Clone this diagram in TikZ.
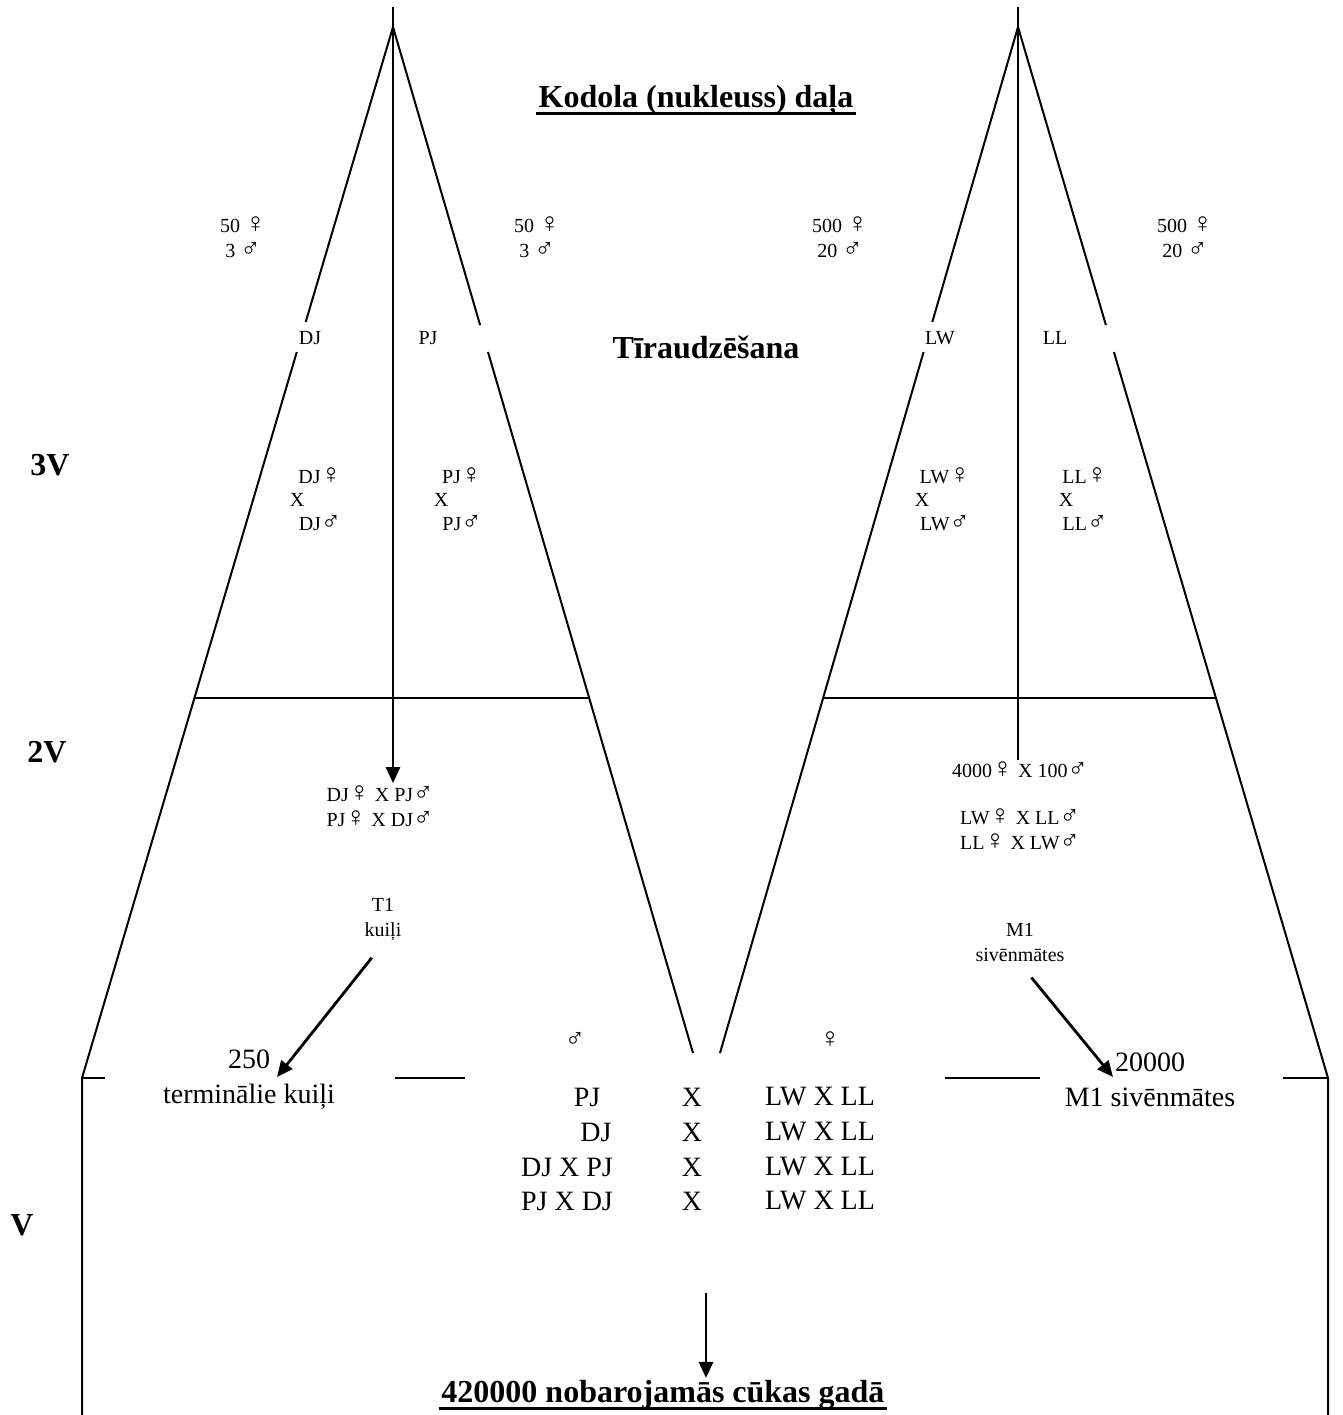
\documentclass[tikz,border=0pt]{standalone}
\usepackage{fontspec}
\setmainfont{Liberation Serif}
\usetikzlibrary{arrows.meta,positioning}

% sex signs, drawn at the height of the capitals
\newcommand{\fem}{\scalebox{1.4}{♀}}
\newcommand{\mal}{\scalebox{1.35}{♂}}

\begin{document}
\begin{tikzpicture}[x=0.5pt, y=-0.5pt,
    lbl/.style={font=\fontsize{10}{12.5}\selectfont, align=center, inner sep=1pt},
    big/.style={font=\fontsize{14}{17.5}\selectfont, align=center, inner sep=1pt},
    heading/.style={font=\fontsize{16}{19}\selectfont\bfseries, inner sep=1pt},
    side/.style={line width=1pt},
    stem/.style={line width=1.4pt},
    flow/.style={-{Triangle[length=8pt,width=7pt]}, line width=1.4pt}
]
\useasboundingbox (0,0) rectangle (1343,1415);

% --- Headings and generation marks ---
\node[heading] (core) at (696,100) {Kodola (nukleuss) daļa};
\draw[line width=1.5pt] ([yshift=-3pt]core.base west) -- ([yshift=-3pt]core.base east);
\node[heading] (pure) at (706,347) {Tīraudzēšana};

\node[heading] (g3) at (50,465) {3V};
\node[heading] (g2) at (47,752) {2V};
\node[heading] (g1) at (22,1225) {V};

% --- Left pyramid: DJ and PJ ---
\coordinate (apexL) at (393,27);
\coordinate (topL) at (393,7);
\draw[side] (apexL) -- (305.7,322) (296.8,352) -- (82,1078) -- (82,1415);
\draw[side] (apexL) -- (480.1,325) (488.0,352) -- (693,1053);
\draw[side] (194.4,698) -- (589.2,698);

% --- Right pyramid: LW and LL ---
\coordinate (apexR) at (1018,27);
\coordinate (topR) at (1018,7);
\draw[side] (apexR) -- (932.3,322) (923.6,352) -- (720,1053);
\draw[side] (apexR) -- (1105.9,325) (1113.9,352) -- (1328,1078) -- (1328,1415);
\draw[side] (823.1,698) -- (1215.9,698);

% Commercial level (broken by the labels)
\draw[side] (82,1078) -- (105,1078) (395,1078) -- (465,1078)
            (945,1078) -- (1040,1078) (1283,1078) -- (1328,1078);

% --- Nucleus herd sizes ---
\node[lbl] (djHerd) at (243,237) {50 \fem\\3 \mal};
\node[lbl] (pjHerd) at (537,237) {50 \fem\\3 \mal};
\node[lbl] (lwHerd) at (840,237) {500 \fem\\20 \mal};
\node[lbl] (llHerd) at (1185,237) {500 \fem\\20 \mal};

\node[lbl] (dj) at (310,338) {DJ};
\node[lbl] (pj) at (428,338) {PJ};
\node[lbl] (lw) at (940,338) {LW};
\node[lbl] (ll) at (1055,338) {LL};

% Pure-line matings
\foreach \bx/\xx/\br in {320/297/DJ, 462/441/PJ, 945/922/LW, 1085/1066/LL} {
    \node[lbl] (\br-f) at (\bx,476) {\br\fem};
    \node[lbl] (\br-x) at (\xx,500) {X};
    \node[lbl] (\br-m) at (\bx,523) {\br\mal};
}

% --- Multiplier level ---
\node[lbl] (crossL) at (380,806) {DJ\fem{} X PJ\mal\\PJ\fem{} X DJ\mal};
\node[lbl] (t1) at (383,920) {T1\\kuiļi};
\node[lbl] (count) at (1020,770) {4000\fem{} X 100\mal};
\node[lbl] (crossR) at (1020,829) {LW\fem{} X LL\mal\\LL\fem{} X LW\mal};
\node[lbl] (m1) at (1020,942) {M1\\sivēnmātes};

\draw[flow] (topL) -- (topL |- crossL.north);
\draw[stem] (topR) -- (topR |- count.north);

% --- Commercial level ---
\node[big] (boars) at (249,1080) {250\\terminālie kuiļi};
\node[big] (sows) at (1150,1080) {20000\\M1 sivēnmātes};

\coordinate (boarTip) at (277,1077);
\coordinate (sowTip) at (1113,1077);
\draw[flow, shorten <=9pt] (t1.south) -- (boarTip);
\draw[flow, shorten <=9pt] (m1.south) -- (sowTip);

\node[lbl] (sire) at (575,1040) {\mal};
\node[lbl] (dam) at (830,1040) {\fem};
\foreach \y/\s/\sx [count=\i] in {1097/PJ/587, 1132/DJ/596, 1167/DJ X PJ/567, 1201/PJ X DJ/567} {
    \node[big] (sire\i) at (\sx,\y) {\s};
    \node[big] (x\i) at (692,\y) {X};
    \node[big] (dam\i) at (820,\y) {LW X LL};
}

\node[heading] (result) at (663,1395) {420000 nobarojamās cūkas gadā};
\draw[line width=1.5pt] ([yshift=-3pt]result.base west) -- ([yshift=-3pt]result.base east);

\coordinate (mixOut) at (706,1293);
\draw[flow] (mixOut) -- (mixOut |- result.north);

\end{tikzpicture}
\end{document}
